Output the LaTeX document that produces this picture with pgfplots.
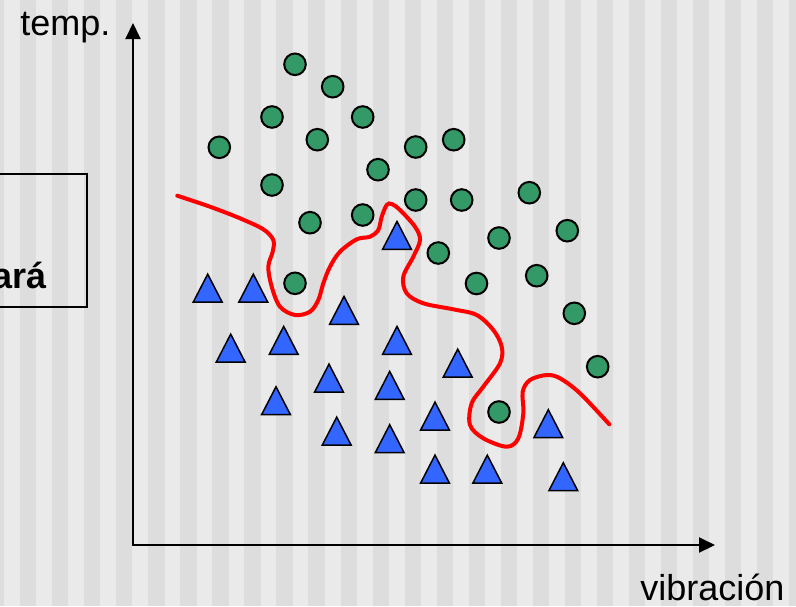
\documentclass[border=0pt]{standalone}
\usepackage{fontspec}
\setmainfont{Liberation Sans}
\usepackage{pgfplots}
\pgfplotsset{compat=1.18}
\usetikzlibrary{arrows.meta}
\definecolor{stripeA}{HTML}{EAEAEA}
\definecolor{stripeB}{HTML}{DDDDDD}
\definecolor{cgreen}{HTML}{339966}
\definecolor{cblue}{HTML}{3366FF}
\pgfdeclareplotmark{tri}{%
  \pgfpathmoveto{\pgfpoint{0pt}{1.12\pgfplotmarksize}}%
  \pgfpathlineto{\pgfpoint{-0.866\pgfplotmarksize}{-0.56\pgfplotmarksize}}%
  \pgfpathlineto{\pgfpoint{0.866\pgfplotmarksize}{-0.56\pgfplotmarksize}}%
  \pgfpathclose
  \pgfusepathqfillstroke}
\begin{document}
\begin{tikzpicture}
\useasboundingbox (0,0) rectangle (398pt,303pt);
\clip (0,0) rectangle (398pt,303pt);
\fill[stripeA] (0,0) rectangle (398pt,303pt);
\foreach \k in {-1,...,24} {
  \fill[stripeB] ({(20+32.05*\k)*0.5pt},0) rectangle ({(36.3+32.05*\k)*0.5pt},303pt);
}
\begin{axis}[at={(0,0)}, anchor=south west, scale only axis,
  width=398pt, height=303pt, xmin=0, xmax=796, ymin=0, ymax=606,
  y dir=reverse, hide axis, clip=false]
% axes
\addplot[black, line width=1pt, {Triangle[length=8pt,width=7.5pt]}-{Triangle[length=8pt,width=7.5pt]}]
  coordinates {(133,23) (133,545) (715,545)};
% box
\addplot[black, line width=0.75pt] coordinates {(-10,174) (87,174) (87,307) (-10,307)};
\node[anchor=base east, inner sep=0pt, font=\fontsize{18pt}{21pt}\selectfont\bfseries] at (axis cs:47,288) {Fallará};
\node[anchor=base west, inner sep=0pt, font=\fontsize{18pt}{21pt}\selectfont] at (axis cs:20,35) {temp.};
\node[anchor=base west, inner sep=0pt, font=\fontsize{18pt}{21pt}\selectfont] at (axis cs:640,600) {vibración};
% red boundary
\addplot[red, line width=2pt, smooth, tension=0.55, line cap=round] coordinates {
(177.3,195.7)(210,206.7)(240,218.3)(263.3,229.3)(273.3,240)(272.7,251.7)(268.3,266.7)
(271.7,286.7)(280,306.7)(295,315)(310,311.7)(318.3,300)(323.3,283.3)(330,266.7)(340,251.7)
(356.7,239.3)(370,236.7)(378.3,230)(381.7,216.7)(386.7,205)(391.7,204)(400,210)(415,226.7)
(420,240)(413.3,256.7)(403.3,276.7)(406.7,293.3)(423.3,303.3)(453.3,309.3)(476.7,315)
(493.3,330)(501.7,346.7)(500,363.3)(483.3,386.7)(471.7,403.3)(470,425)(483.3,438.3)
(506.7,446.7)(518.3,438.3)(523.3,413.3)(522.7,391.7)(530,380)(546.7,375)(560,378.3)
(580,393.3)(609.3,424.3)};
% green circles
\addplot[only marks, mark=*, mark size=5.4pt, mark options={fill=cgreen, draw=black, line width=1pt}] coordinates {
(295,64.3)(332.7,86.7)(272,117)(362.7,117)(219.3,147.3)(317.3,139.7)(415.7,147)(453.7,139.7)
(378,169.7)(272,185)(415.7,200)(461.7,200)(362.7,215)(310,222.7)(438.3,253)(529.3,192.7)
(567.3,230.7)(499,238)(476.5,283.5)(536.7,275.7)(295,283.3)(574.3,313.3)(597.7,366.7)(499,412)};
% blue triangles (centre = apex + 20 px)
\addplot[only marks, mark=tri, mark size=8.3pt, mark options={fill=cblue, draw=black, line width=0.75pt}] coordinates {
(207.7,292.7)(253.3,292.7)(344,315)(230.7,352.7)(283.7,345)(397,345)(457.7,367.7)(329,382.7)
(389.7,390)(276,405.3)(435,420.7)(548.3,428.3)(336.7,435.7)(389.7,443.3)(435,473.7)(487.3,473.7)
(563.3,481.3)(397,240)};
\end{axis}
\end{tikzpicture}
\end{document}
